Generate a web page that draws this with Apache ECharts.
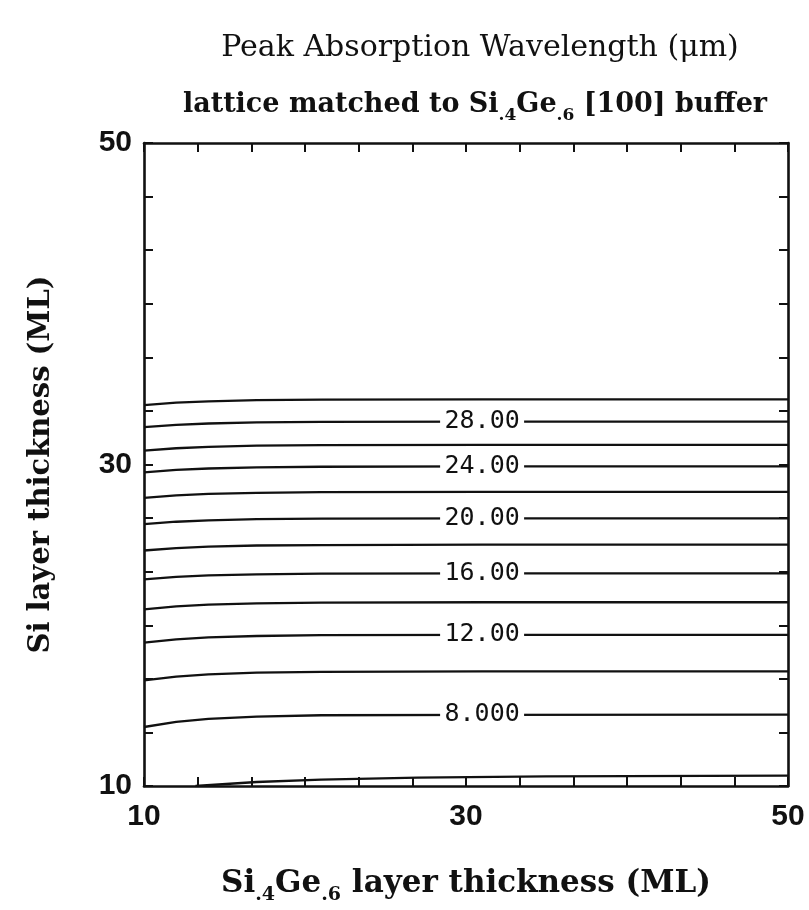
<!DOCTYPE html>
<html>
<head>
<meta charset="utf-8">
<script src="https://cdn.jsdelivr.net/npm/echarts@6/dist/echarts.min.js"></script>
<style>
  html, body { margin: 0; padding: 0; background: #fff; }
  #chart { width: 809px; height: 910px; }
</style>
</head>
<body>
<div id="chart"></div>
<script>
// Si4Ge6 thickness (ML) where the curves were read
const xThick = [10, 12, 14, 17, 21, 31, 50];

// Si thickness (ML) of each contour of peak wavelength (um)
const wl30 = [33.70, 33.85, 33.93, 34.00, 34.03, 34.05, 34.05];
const wl28 = [32.32, 32.47, 32.55, 32.62, 32.65, 32.67, 32.67];
const wl26 = [30.86, 31.01, 31.10, 31.17, 31.20, 31.22, 31.22];
const wl24 = [29.51, 29.67, 29.75, 29.82, 29.86, 29.88, 29.88];
const wl22 = [27.92, 28.08, 28.17, 28.24, 28.28, 28.30, 28.30];
const wl20 = [26.29, 26.44, 26.53, 26.60, 26.63, 26.65, 26.65];
const wl18 = [24.65, 24.80, 24.89, 24.96, 24.99, 25.01, 25.01];
const wl16 = [22.85, 23.01, 23.10, 23.17, 23.21, 23.23, 23.23];
const wl14 = [20.99, 21.17, 21.28, 21.36, 21.41, 21.43, 21.43];
const wl12 = [18.92, 19.12, 19.24, 19.33, 19.38, 19.40, 19.40];
const wl10 = [16.57, 16.81, 16.94, 17.05, 17.10, 17.13, 17.13];
const wl8 = [13.67, 13.99, 14.18, 14.32, 14.40, 14.43, 14.44];

// the lowest contour starts on the bottom edge
const x6 = [13.2, 17, 21, 27, 35, 50];
const wl6 = [10.0, 10.25, 10.40, 10.52, 10.60, 10.65];

// which contours carry a label, and its text
const contours = [
  { x: xThick, y: wl30, label: null },
  { x: xThick, y: wl28, label: '28.00' },
  { x: xThick, y: wl26, label: null },
  { x: xThick, y: wl24, label: '24.00' },
  { x: xThick, y: wl22, label: null },
  { x: xThick, y: wl20, label: '20.00' },
  { x: xThick, y: wl18, label: null },
  { x: xThick, y: wl16, label: '16.00' },
  { x: xThick, y: wl14, label: null },
  { x: xThick, y: wl12, label: '12.00' },
  { x: xThick, y: wl10, label: null },
  { x: xThick, y: wl8, label: '8.000' },
  { x: x6, y: wl6, label: null },
];
const labelIdx = 5; // point (x = 31 ML) where the label sits

const ink = '#111';
const serif = "'DejaVu Serif', 'Liberation Serif', serif";
const sans = "'Liberation Sans', Arial, sans-serif";

const myChart = echarts.init(document.getElementById('chart'), null, { renderer: 'canvas' });

let series = contours.map((c) => {
  let s = {
    type: 'line',
    data: c.x.map((x, i) => [x, c.y[i]]),
    showSymbol: false,
    symbol: 'none',
    lineStyle: { color: ink, width: 2.3 },
    silent: true,
    animation: false,
    z: 3,
  };
  if (c.label) {
    s.markPoint = {
      symbol: 'rect',
      symbolSize: [84, 8],
      itemStyle: { color: '#fff' },
      label: {
        show: true,
        color: ink,
        fontFamily: "'DejaVu Sans Mono', monospace",
        fontSize: 25,
        formatter: c.label,
      },
      data: [{ coord: s.data[labelIdx] }],
      animation: false,
    };
  }
  return s;
});

const tickBits = {
  axisLine: { show: true, lineStyle: { color: ink, width: 2.6 } },
  axisTick: { show: true, inside: true, length: 9, lineStyle: { color: ink, width: 2 } },
  minorTick: { show: true, splitNumber: 6, length: 9, lineStyle: { color: ink, width: 2 } },
  splitLine: { show: false },
  minorSplitLine: { show: false },
};

let option = {
  backgroundColor: '#fff',
  title: [
    {
      text: 'Peak Absorption Wavelength (\u03bcm)',
      left: 475, top: 28, textAlign: 'center',
      textStyle: { fontFamily: serif, fontSize: 30, fontWeight: 'normal', color: ink },
    },
    {
      text: 'lattice matched to Si{sub|.4}Ge{sub|.6} [100] buffer',
      left: 470, top: 80, textAlign: 'center',
      textStyle: {
        fontFamily: serif, fontSize: 27, fontWeight: 'bold', color: ink,
        rich: { sub: { fontFamily: serif, fontSize: 17, fontWeight: 'bold', color: ink, padding: [22, 0, 0, 0] } },
      },
    },
  ],
  grid: { left: 144, top: 143, right: 21, bottom: 123, containLabel: false },
  xAxis: [
    {
      type: 'value', min: 10, max: 50, interval: 20, position: 'bottom',
      ...tickBits,
      axisLabel: { margin: 16, color: ink, fontSize: 30, fontWeight: 'bold', fontFamily: sans },
      name: 'Si{sub|.4}Ge{sub|.6} layer thickness (ML)',
      nameLocation: 'middle', nameGap: 76,
      nameTextStyle: {
        fontFamily: serif, fontSize: 31, fontWeight: 'bold', color: ink,
        rich: { sub: { fontFamily: serif, fontSize: 19, fontWeight: 'bold', color: ink, padding: [24, 0, 0, 0] } },
      },
    },
    {
      type: 'value', min: 10, max: 50, interval: 20, position: 'top',
      ...tickBits,
      axisLabel: { show: false },
    },
  ],
  yAxis: [
    {
      type: 'value', min: 10, max: 50, interval: 20, position: 'left',
      ...tickBits,
      axisLabel: { margin: 12, color: ink, fontSize: 30, fontWeight: 'bold', fontFamily: sans },
      name: 'Si layer thickness (ML)',
      nameLocation: 'middle', nameGap: 88, nameRotate: 90,
      nameTextStyle: { fontFamily: serif, fontSize: 29, fontWeight: 'bold', color: ink },
    },
    {
      type: 'value', min: 10, max: 50, interval: 20, position: 'right',
      ...tickBits,
      axisLabel: { show: false },
    },
  ],
  series,
};

option && myChart.setOption(option);
</script>
</body>
</html>
